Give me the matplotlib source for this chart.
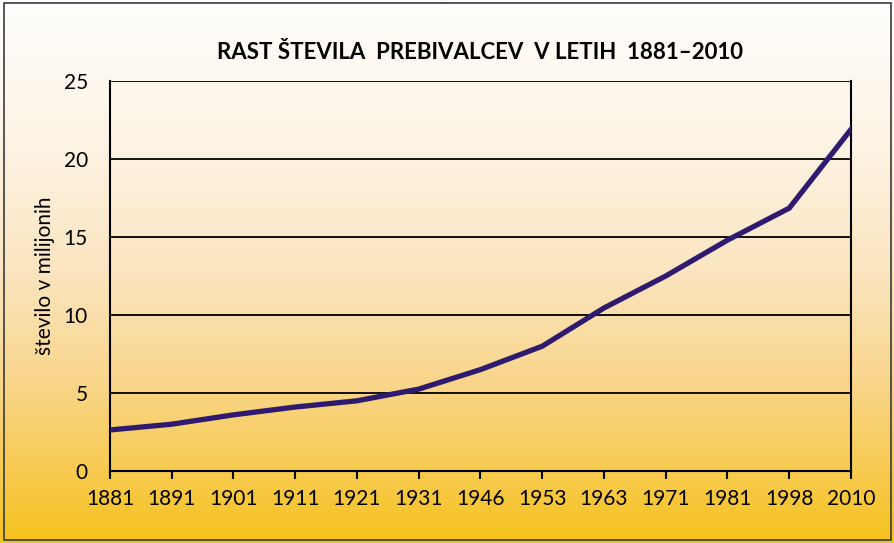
import numpy as np
import matplotlib.pyplot as plt
from matplotlib.colors import LinearSegmentedColormap
from matplotlib.patches import Rectangle

years = ['1881', '1891', '1901', '1911', '1921', '1931', '1946',
         '1953', '1963', '1971', '1981', '1998', '2010']
population = [2.63, 3.0, 3.6, 4.1, 4.5, 5.25, 6.5, 8.0, 10.45, 12.5, 14.8, 16.85, 21.9]

plt.rcParams['font.family'] = ['Lato', 'DejaVu Sans']

fig = plt.figure(figsize=(8.95, 5.43), dpi=100)

# background gradient (top light cream -> bottom golden yellow)
bg = fig.add_axes([0, 0, 1, 1], zorder=-10)
cmap = LinearSegmentedColormap.from_list(
    'bg', [(0.0, '#F6C21C'), (0.12, '#F7CA4C'), (0.3, '#F9D68C'),
           (0.5, '#FBE5C0'), (0.75, '#FDF4E6'), (1.0, '#FFFEFC')])
grad = np.linspace(0, 1, 256).reshape(-1, 1)
bg.imshow(grad, aspect='auto', cmap=cmap, origin='lower', extent=[0, 1, 0, 1])
bg.set_axis_off()
fig.patches.append(Rectangle((0.004, 0.006), 0.992, 0.988, transform=fig.transFigure,
                             fill=False, edgecolor='#3a3a3a', linewidth=1.2))

ax = fig.add_axes([110/895, 1-471/543, 741/895, 390/543])
ax.patch.set_alpha(0)
x = np.arange(len(years))
ax.plot(x, population, color='#2E1A6E', linewidth=3.8, solid_joinstyle='miter', zorder=3)

ax.set_xlim(0, len(years) - 1)
ax.set_ylim(0, 25)
ax.set_xticks(x)
ax.set_xticklabels(years)
ax.set_yticks([0, 5, 10, 15, 20, 25])
for v in [5, 10, 15, 20, 25]:
    ax.axhline(v, color='black', linewidth=1.3, zorder=1)
for s in ['left', 'right', 'bottom']:
    ax.spines[s].set_linewidth(1.5)
ax.spines['top'].set_visible(False)
ax.tick_params(axis='x', length=6, width=1.5, direction='out', labelsize=15, pad=7)
ax.tick_params(axis='y', length=0, labelsize=15, pad=16)
ax.set_ylabel('število v milijonih', fontsize=15, labelpad=6)
ax.set_title('RAST ŠTEVILA  PREBIVALCEV  V LETIH  1881–2010',
             fontsize=16, fontweight='bold', pad=16)

fig.savefig('out.png', dpi=100)
